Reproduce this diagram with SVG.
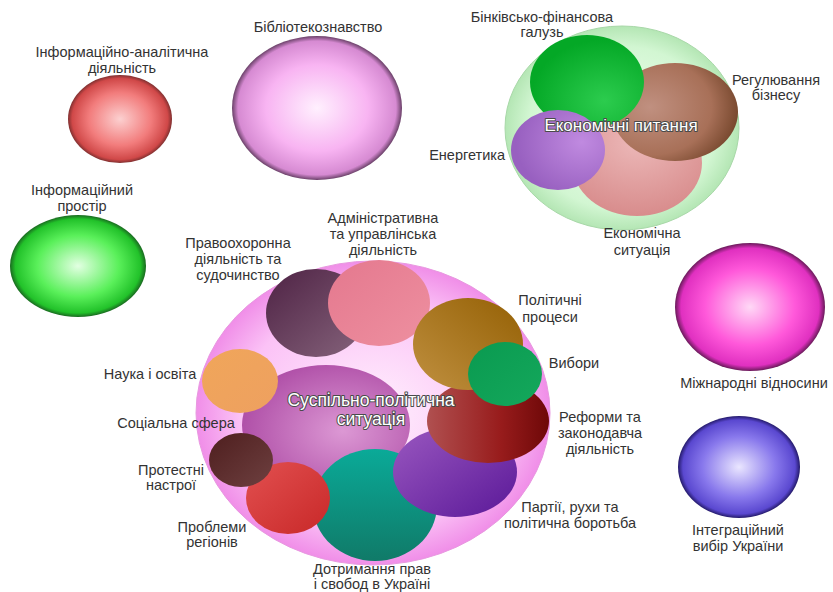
<svg xmlns="http://www.w3.org/2000/svg" width="833" height="592" viewBox="0 0 833 592">
<defs>
<radialGradient id="gRed" cx="50%" cy="50%" r="50%"><stop offset="0" stop-color="#fcd0d0"/><stop offset="0.6" stop-color="#f27c7c"/><stop offset="0.92" stop-color="#d04848"/><stop offset="1" stop-color="#803030"/></radialGradient>
<radialGradient id="gLib" cx="50%" cy="50%" r="50%"><stop offset="0" stop-color="#fff0fe"/><stop offset="0.6" stop-color="#f8b4f2"/><stop offset="0.93" stop-color="#d68ad2"/><stop offset="1" stop-color="#6a4068"/></radialGradient>
<radialGradient id="gGreen" cx="50%" cy="50%" r="50%"><stop offset="0" stop-color="#e2ffe2"/><stop offset="0.6" stop-color="#5af05a"/><stop offset="0.92" stop-color="#22c22a"/><stop offset="1" stop-color="#1a6a20"/></radialGradient>
<radialGradient id="gMag" cx="50%" cy="50%" r="50%"><stop offset="0" stop-color="#ffd8f6"/><stop offset="0.6" stop-color="#ff58da"/><stop offset="0.92" stop-color="#e030c0"/><stop offset="1" stop-color="#6a1a5a"/></radialGradient>
<radialGradient id="gBlue" cx="50%" cy="50%" r="50%"><stop offset="0" stop-color="#eae6ff"/><stop offset="0.6" stop-color="#8878ec"/><stop offset="0.92" stop-color="#5a48d0"/><stop offset="1" stop-color="#241a6a"/></radialGradient>
<radialGradient id="gEconOuter" cx="50%" cy="50%" r="50%"><stop offset="0" stop-color="#f4fff4"/><stop offset="0.8" stop-color="#d2f6d2"/><stop offset="1" stop-color="#b4e6b4"/></radialGradient>
<radialGradient id="gSocOuter" cx="50%" cy="50%" r="50%"><stop offset="0" stop-color="#fff0fd"/><stop offset="0.75" stop-color="#fbc2f6"/><stop offset="1" stop-color="#f08ee8"/></radialGradient>
<radialGradient id="eGreen" cx="65%" cy="70%" r="65%"><stop offset="0" stop-color="#2ccc4e"/><stop offset="1" stop-color="#04a826"/></radialGradient>
<radialGradient id="eBrown" cx="30%" cy="45%" r="70%"><stop offset="0" stop-color="#c09080"/><stop offset="0.7" stop-color="#a87058"/><stop offset="1" stop-color="#7a4a30"/></radialGradient>
<radialGradient id="ePink" cx="50%" cy="30%" r="70%"><stop offset="0" stop-color="#ecb8b8"/><stop offset="1" stop-color="#d88c8c"/></radialGradient>
<radialGradient id="ePurple" cx="75%" cy="40%" r="70%"><stop offset="0" stop-color="#c08ae0"/><stop offset="1" stop-color="#9860c0"/></radialGradient>
<linearGradient id="sPlum" x1="0" y1="0" x2="1" y2="1"><stop offset="0" stop-color="#4e2244"/><stop offset="1" stop-color="#86647c"/></linearGradient>
<linearGradient id="sAdm" x1="0" y1="0" x2="1" y2="1"><stop offset="0" stop-color="#e4788e"/><stop offset="1" stop-color="#ee90a0"/></linearGradient>
<radialGradient id="sMag" cx="60%" cy="55%" r="60%"><stop offset="0" stop-color="#dc98d4"/><stop offset="1" stop-color="#b050a8"/></radialGradient>
<linearGradient id="sOrange" x1="0" y1="0" x2="1" y2="1"><stop offset="0" stop-color="#f0a65a"/><stop offset="1" stop-color="#eea060"/></linearGradient>
<linearGradient id="sGold" x1="0" y1="1" x2="1" y2="0"><stop offset="0" stop-color="#c09040"/><stop offset="1" stop-color="#946004"/></linearGradient>
<linearGradient id="sVyb" x1="0" y1="0" x2="1" y2="1"><stop offset="0" stop-color="#0a9a50"/><stop offset="1" stop-color="#14a85c"/></linearGradient>
<linearGradient id="sRef" x1="0" y1="0" x2="1" y2="0"><stop offset="0" stop-color="#b05050"/><stop offset="0.6" stop-color="#981c1c"/><stop offset="1" stop-color="#6e0808"/></linearGradient>
<linearGradient id="sPart" x1="0" y1="0" x2="1" y2="1"><stop offset="0" stop-color="#9a58c0"/><stop offset="1" stop-color="#5a1898"/></linearGradient>
<linearGradient id="sTeal" x1="0" y1="0" x2="0" y2="1"><stop offset="0" stop-color="#0aaa98"/><stop offset="1" stop-color="#107a68"/></linearGradient>
<linearGradient id="sProt" x1="0" y1="0" x2="1" y2="1"><stop offset="0" stop-color="#4e1e1e"/><stop offset="1" stop-color="#6e4040"/></linearGradient>
<linearGradient id="sReg" x1="0" y1="0" x2="1" y2="1"><stop offset="0" stop-color="#e25050"/><stop offset="1" stop-color="#c82828"/></linearGradient>
</defs>
<style>
text{font-family:"Liberation Sans",Arial,sans-serif;font-size:14.5px;fill:#333333;text-anchor:middle}
.title{font-size:17.5px;fill:#ffffff;stroke:#4a4a4a;stroke-width:2px;paint-order:stroke;stroke-linejoin:round}
.etitle{font-size:17px}
.end{text-anchor:end}
</style>
<rect width="833" height="592" fill="#ffffff"/>

<g id="info-analytics">
<ellipse cx="120" cy="119" rx="52" ry="44" fill="url(#gRed)"/>
<text x="122" y="57">Інформаційно-аналітична</text>
<text x="122" y="73">діяльність</text>
</g>
<g id="library">
<ellipse cx="317" cy="108" rx="85" ry="72" fill="url(#gLib)"/>
<text x="318" y="32">Бібліотекознавство</text>
</g>
<g id="info-space">
<ellipse cx="78" cy="266" rx="68" ry="51" fill="url(#gGreen)"/>
<text x="82" y="195">Інформаційний</text>
<text x="82" y="211">простір</text>
</g>
<g id="international">
<ellipse cx="750" cy="307" rx="75" ry="64" fill="url(#gMag)"/>
<text x="754" y="388">Міжнародні відносини</text>
</g>
<g id="integration">
<ellipse cx="739" cy="467" rx="61" ry="51" fill="url(#gBlue)"/>
<text x="738" y="535">Інтеграційний</text>
<text x="738" y="551">вибір України</text>
</g>

<g id="economy">
<ellipse cx="622" cy="128" rx="117" ry="102" fill="url(#gEconOuter)" stroke="#a8d8a8" stroke-width="1"/>
<g id="econ-situation"><ellipse cx="637" cy="163" rx="65" ry="53" fill="url(#ePink)"/>
<text x="642" y="238">Економічна</text><text x="642" y="255">ситуація</text></g>
<g id="business"><ellipse cx="675" cy="112" rx="63" ry="49" fill="url(#eBrown)"/>
<text x="776" y="85">Регулювання</text><text x="776" y="100">бізнесу</text></g>
<g id="banking"><ellipse cx="587" cy="82" rx="57" ry="47" fill="url(#eGreen)"/>
<text x="542" y="22">Бінківсько-фінансова</text><text x="542" y="37">галузь</text></g>
<g id="energy"><ellipse cx="558" cy="150" rx="47" ry="40" fill="url(#ePurple)"/>
<text class="end" x="505" y="160">Енергетика</text></g>
<text class="title etitle" x="621" y="131">Економічні питання</text>
</g>

<g id="social-political">
<ellipse cx="373" cy="413" rx="177" ry="152" fill="url(#gSocOuter)" stroke="#e898e0" stroke-width="1"/>
<g id="society-core"><ellipse cx="326" cy="425" rx="84" ry="60" fill="url(#sMag)"/></g>
<g id="law"><ellipse cx="316" cy="313" rx="50" ry="44" fill="url(#sPlum)"/>
<text x="238" y="248">Правоохоронна</text><text x="238" y="264">діяльність та</text><text x="238" y="280">судочинство</text></g>
<g id="admin"><ellipse cx="379" cy="303" rx="51" ry="43" fill="url(#sAdm)"/>
<text x="383" y="223">Адміністративна</text><text x="383" y="239">та управлінська</text><text x="383" y="255">діяльність</text></g>
<g id="science"><ellipse cx="240" cy="381" rx="38" ry="32" fill="url(#sOrange)"/>
<text x="150" y="379">Наука і освіта</text></g>
<g id="rights"><ellipse cx="375" cy="505" rx="62" ry="56" fill="url(#sTeal)"/>
<text x="372" y="574">Дотримання прав</text><text x="372" y="589">і свобод в Україні</text></g>
<g id="parties"><ellipse cx="455" cy="472" rx="62" ry="45" fill="url(#sPart)"/>
<text x="570" y="512">Партії, рухи та</text><text x="570" y="528">політична боротьба</text></g>
<g id="reforms"><ellipse cx="488" cy="421" rx="61" ry="42" fill="url(#sRef)"/>
<text x="600" y="422">Реформи та</text><text x="600" y="438">законодавча</text><text x="600" y="454">діяльність</text></g>
<g id="politics"><ellipse cx="468" cy="344" rx="55" ry="46" fill="url(#sGold)"/>
<text x="550" y="305">Політичні</text><text x="550" y="322">процеси</text></g>
<g id="elections"><ellipse cx="505" cy="374" rx="37" ry="32" fill="url(#sVyb)"/>
<text x="574" y="368">Вибори</text></g>
<g id="regions"><ellipse cx="288" cy="498" rx="42" ry="36" fill="url(#sReg)"/>
<text x="212" y="532">Проблеми</text><text x="212" y="547">регіонів</text></g>
<g id="protest"><ellipse cx="241" cy="460" rx="32" ry="27" fill="url(#sProt)"/>
<text x="171" y="475">Протестні</text><text x="171" y="490">настрої</text></g>
<g id="social"><text x="176" y="428">Соціальна сфера</text></g>
<text class="title" x="371" y="406">Суспільно-політична</text>
<text class="title" x="371" y="425">ситуація</text>
</g>
</svg>
